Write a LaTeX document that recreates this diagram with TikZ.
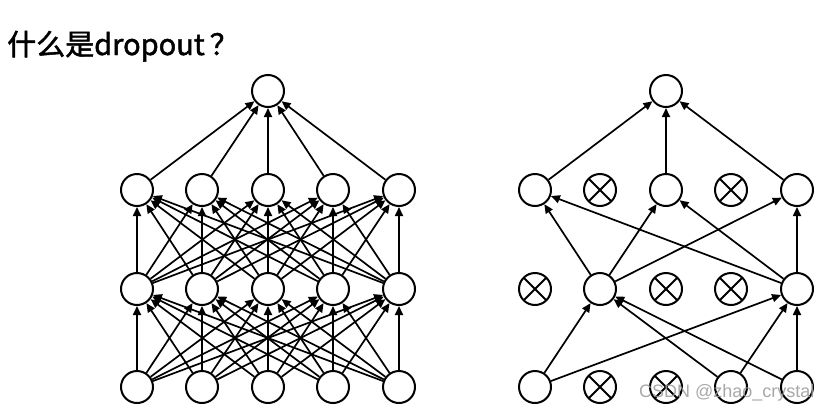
\documentclass[tikz,border=0pt]{standalone}
\usepackage{fontspec}
\setmainfont{Liberation Sans}
\newfontfamily\cjkfont[FakeBold=1.6]{Noto Sans CJK SC}
\usetikzlibrary{arrows.meta}

\begin{document}
\begin{tikzpicture}[x=1pt,y=-1pt,
		unit/.style={circle,draw,line width=2pt,minimum size=32pt,inner sep=0pt},
		dropped/.style={unit,path picture={
				\draw[line width=2pt] (path picture bounding box.north west) -- (path picture bounding box.south east)
				(path picture bounding box.north east) -- (path picture bounding box.south west);}},
		link/.style={-{Triangle[length=9pt,width=8pt]},line width=1.7pt}]
		\useasboundingbox (0,0) rectangle (832,410);
		\node[anchor=base west,inner sep=0pt,font=\cjkfont\fontsize{29}{29}\selectfont] (title) at (7,55) {什么是dropout\hspace{5pt}？};
		% standard network
		\foreach \i/\x in {1/137,2/202,3/268,4/333,5/399} {
			\node[unit] (in\i) at (\x,387) {};
			\node[unit] (ha\i) at (\x,289) {};
			\node[unit] (hb\i) at (\x,190) {};
		}
		\node[unit] (out) at (268,91) {};
		\foreach \i in {1,...,5} {
			\draw[link] (hb\i) -- (out);
			\foreach \j in {1,...,5} {
				\draw[link] (in\i) -- (ha\j);
				\draw[link] (ha\i) -- (hb\j);
			}
		}
		% after dropout
		\node[unit] (rin1) at (535,387) {};
		\node[dropped] (rin2) at (600,387) {};
		\node[dropped] (rin3) at (666,387) {};
		\node[unit] (rin4) at (731,387) {};
		\node[unit] (rin5) at (797,387) {};
		\node[dropped] (rha1) at (535,289) {};
		\node[unit] (rha2) at (600,289) {};
		\node[dropped] (rha3) at (666,289) {};
		\node[dropped] (rha4) at (731,289) {};
		\node[unit] (rha5) at (797,289) {};
		\node[unit] (rhb1) at (535,190) {};
		\node[dropped] (rhb2) at (600,190) {};
		\node[unit] (rhb3) at (666,190) {};
		\node[dropped] (rhb4) at (731,190) {};
		\node[unit] (rhb5) at (797,190) {};
		\node[unit] (rout) at (666,91) {};
		\foreach \i in {1,3,5} {
			\draw[link] (rhb\i) -- (rout);
			\foreach \j in {2,5} {
				\draw[link] (rha\j) -- (rhb\i);
			}
		}
		\foreach \i in {1,4,5} {
			\foreach \j in {2,5} {
				\draw[link] (rin\i) -- (rha\j);
			}
		}
		\node[anchor=base west,inner sep=0pt,font=\fontsize{18}{18}\selectfont,text=black!40,opacity=0.85] (mark) at (639,397) {CSDN @zhao\_crystal};
	\end{tikzpicture}
\end{document}
